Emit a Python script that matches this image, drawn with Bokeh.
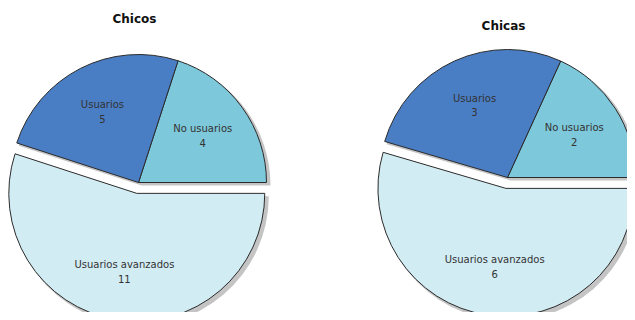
import numpy as np
from bokeh.plotting import figure
from bokeh.models import Range1d, ColumnDataSource
from bokeh.embed import file_html
from bokeh.resources import INLINE
from bokeh.core.properties import value

# ---- data ----
categories = ["No usuarios", "Usuarios", "Usuarios avanzados"]
chicos = [4, 5, 11]
chicas = [2, 3, 6]
titles = ["Chicos", "Chicas"]
colors = ["#7dc8da", "#4a7ec4", "#d2ecf4"]
exploded = [False, False, True]

# ---- layout (data space = screen pixels, y flipped) ----
W, H = 627, 312
p = figure(width=W, height=H, output_backend="svg", toolbar_location=None,
           x_range=Range1d(0, W), y_range=Range1d(320 - H, 320),
           x_axis_type=None, y_axis_type=None, min_border=0)
p.outline_line_color = None
p.xgrid.grid_line_color = None
p.ygrid.grid_line_color = None
p.background_fill_color = "white"
p.border_fill_color = "white"

FONT = value("DejaVu Sans")
pies = [
    dict(vals=chicos, cx=138, cy=138, r=128, title=titles[0], tx=134, ty=302),
    dict(vals=chicas, cx=507, cy=143, r=128, title=titles[1], tx=503, ty=295),
]
EXPLODE = 11
SHADOW = 3

for pie in pies:
    vals = np.array(pie["vals"], dtype=float)
    frac = vals / vals.sum()
    ends = np.cumsum(frac) * 2 * np.pi
    starts = np.concatenate([[0.0], ends[:-1]])
    mids = (starts + ends) / 2
    off = np.array([EXPLODE if e else 0 for e in exploded], dtype=float)
    xs = pie["cx"] + off * np.cos(mids)
    ys = pie["cy"] + off * np.sin(mids)
    src = ColumnDataSource(dict(x=xs, y=ys, sx=xs + SHADOW, sy=ys - SHADOW,
                                start=starts, end=ends, color=colors,
                                cat=categories, val=[str(int(v)) for v in vals],
                                lx=xs + 0.62 * pie["r"] * np.cos(mids),
                                ly=ys + 0.62 * pie["r"] * np.sin(mids)))
    # soft shadow
    p.wedge(x="sx", y="sy", radius=pie["r"] + 1, start_angle="start", end_angle="end",
            source=src, fill_color="#555555", fill_alpha=0.35, line_color=None)
    p.wedge(x="x", y="y", radius=pie["r"], start_angle="start", end_angle="end",
            source=src, fill_color="color", line_color="#2b2b2b", line_width=1)
    p.text(x="lx", y="ly", text="cat", source=src, text_font=FONT,
           text_font_size="10px", text_color="#333333", text_align="center",
           text_baseline="middle", y_offset=-7)
    p.text(x="lx", y="ly", text="val", source=src, text_font=FONT,
           text_font_size="10px", text_color="#333333", text_align="center",
           text_baseline="middle", y_offset=7)
    p.text(x=[pie["tx"]], y=[pie["ty"]], text=[pie["title"]], text_font=FONT,
           text_font_size="12px", text_font_style="bold", text_color="#111111",
           text_align="center", text_baseline="middle")

open("out.html", "w").write(file_html(p, INLINE))
